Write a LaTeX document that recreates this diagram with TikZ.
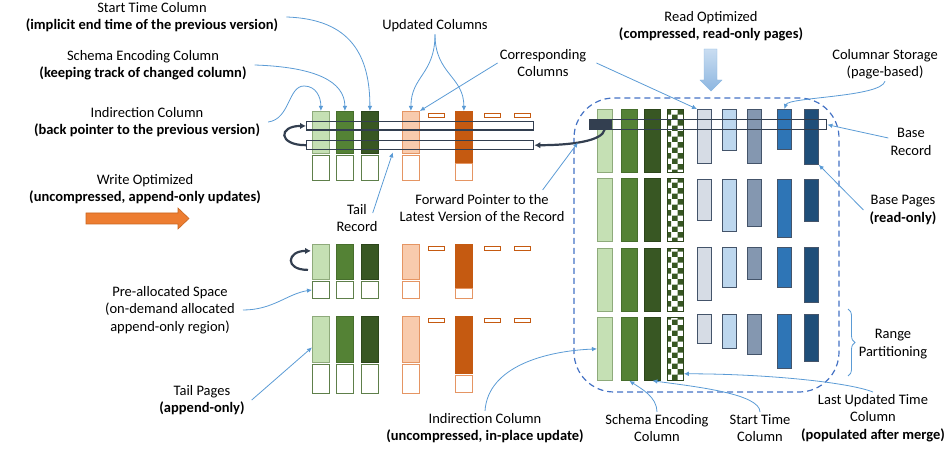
\documentclass[tikz,border=0pt]{standalone}
\usepackage{fontspec}
\setmainfont{Carlito}
\usetikzlibrary{calc,shapes,arrows.meta,patterns,decorations.pathreplacing}

\definecolor{lgreen}{HTML}{C5E0B4}
\definecolor{lgreenb}{HTML}{8EAA7B}
\definecolor{mgreen}{HTML}{548235}
\definecolor{mgreenb}{HTML}{466E2C}
\definecolor{dgreen}{HTML}{385723}
\definecolor{dgreenb}{HTML}{2C451B}
\definecolor{wgreenb}{HTML}{5E7F4A}
\definecolor{peach}{HTML}{F8CBAD}
\definecolor{peachb}{HTML}{E59563}
\definecolor{dorange}{HTML}{C55A11}
\definecolor{orangef}{HTML}{ED7D31}
\definecolor{orangeb}{HTML}{C9651F}
\definecolor{greyblue}{HTML}{D6DCE5}
\definecolor{lblue}{HTML}{BDD7EE}
\definecolor{slateb}{HTML}{8497B0}
\definecolor{mblue}{HTML}{2E75B6}
\definecolor{navy}{HTML}{1F4E79}
\definecolor{colb}{HTML}{44546A}
\definecolor{recline}{HTML}{333F50}
\definecolor{blueline}{HTML}{5B9BD5}
\definecolor{regline}{HTML}{4472C4}
\definecolor{rtop}{HTML}{C9DDF1}
\definecolor{rbot}{HTML}{8DB6E0}

\begin{document}
\begin{tikzpicture}[x=1pt,y=-1pt,
  lbl/.style={align=center,inner sep=2pt,font=\fontsize{14.5}{17.5}\selectfont},
  col/.style={draw,anchor=north west,inner sep=0pt,line width=0.8pt,minimum width=17pt},
  dsh/.style={draw=dorange,fill=white,anchor=north west,inner sep=0pt,line width=1pt,minimum width=16pt,minimum height=4pt},
  rec/.style={draw=recline,anchor=north west,inner sep=0pt,line width=1.4pt},
  ptr/.style={draw=blueline,line width=0.8pt,-{Latex[length=5pt,width=4.5pt]}},
  bptr/.style={draw=recline,line width=2.2pt,-{Latex[length=6pt,width=6.5pt]}}]
\useasboundingbox (0,0) rectangle (948,470);

% tail pages
\foreach \r/\tp/\hg/\wg/\ho/\wo in {a/111/42/25/51/17,b/244/35/17/43/10,c/316/46/29/57/17}{
  \node[col,fill=lgreen,draw=lgreenb,minimum height=\hg pt] (g1\r) at (312,\tp) {};
  \node[col,fill=mgreen,draw=mgreenb,minimum height=\hg pt] (g2\r) at (336,\tp) {};
  \node[col,fill=dgreen,draw=dgreenb,minimum height=\hg pt] (g3\r) at (361,\tp) {};
  \node[col,fill=peach,draw=peachb,minimum height=\hg pt] (pe\r) at (402,\tp) {};
  \node[col,fill=dorange,draw=dorange,minimum height=\ho pt] (do\r) at (455,\tp) {};
  \foreach \x [count=\i] in {312,336,361}
    \node[col,fill=white,draw=wgreenb,minimum height=\wg pt] (w\i\r) at (\x,\tp+\hg+2) {};
  \node[col,fill=white,draw=peachb,minimum height=\wg pt] (wp\r) at (402,\tp+\hg+2) {};
  \node[col,fill=white,draw=peachb,minimum height=\wo pt] (wd\r) at (455,\tp+\ho+1.5) {};
  \foreach \x [count=\i] in {428,484,514}
    \node[dsh] (s\i\r) at (\x,\tp+2) {};
}

% base pages
\draw[regline,line width=1.2pt,dash pattern=on 6pt off 4pt,rounded corners=40pt] (574,98) rectangle (839,392);
\foreach \r/\gt/\bt/\ha/\hbb/\hc/\hdd/\he in {1/109/109/54/41/54/40/55,2/178/179/41/52/47/58/42,3/248/247/53/40/32/40/55,4/317/314/29/34/40/54/47}{
  \node[col,fill=lgreen,draw=lgreenb,minimum width=15pt,minimum height=63pt] (G1-\r) at (597,\gt) {};
  \node[col,fill=mgreen,draw=mgreenb,minimum width=16pt,minimum height=63pt] (G2-\r) at (621,\gt) {};
  \node[col,fill=dgreen,draw=dgreenb,minimum width=16pt,minimum height=63pt] (G3-\r) at (644,\gt) {};
  \node[col,pattern=checkerboard,pattern color=dgreen,draw=dgreenb,minimum width=16pt,minimum height=63pt] (CH-\r) at (667,\gt) {};
  \node[col,fill=greyblue,draw=colb,minimum width=14pt,minimum height=\ha pt] (B1-\r) at (697,\bt) {};
  \node[col,fill=lblue,draw=colb,minimum width=14pt,minimum height=\hbb pt] (B2-\r) at (722,\bt) {};
  \node[col,fill=slateb,draw=colb,minimum width=14pt,minimum height=\hc pt] (B3-\r) at (747,\bt) {};
  \node[col,fill=mblue,draw=colb,minimum width=14pt,minimum height=\hdd pt] (B4-\r) at (777,\bt) {};
  \node[col,fill=navy,draw=colb,minimum width=14pt,minimum height=\he pt] (B5-\r) at (804,\bt) {};
}

% records
\node[rec,minimum width=227pt,minimum height=8.5pt] (rec1) at (306,121) {};
\node[rec,minimum width=227pt,minimum height=9pt] (rec2) at (306,140) {};
\node[rec,minimum width=237pt,minimum height=10pt] (baserec) at (589,119) {};
\node[fill=recline,anchor=north west,inner sep=0pt,minimum width=23pt,minimum height=10pt] (ds) at (589,119) {};

\draw[bptr] (rec2.west) .. controls +(-28,0) and +(-28,0) .. (rec1.west);
\draw[bptr] ($(g1b.west)+(-4,8)$) .. controls +(-24,0) and +(-24,0) .. ($(g1b.west)+(-1,-11)$);
\draw[bptr] ([xshift=4pt]ds.south) .. controls +(-2,12) and +(35,0) .. (rec2.east) coordinate[pos=0.55] (fpmid);

% block arrows and brace
\draw[orangeb,fill=orangef,line width=0.6pt] (86,213) -- (178,213) -- (178,208) -- (189,218.5) -- (178,229) -- (178,224) -- (86,224) -- cycle;
\draw[draw=blueline!70,top color=rtop,bottom color=rbot,line width=0.4pt] (704,49) -- (717,49) -- (717,80) -- (722,80) -- (711,91) -- (700,80) -- (704,80) -- cycle;
\draw[blueline,line width=0.8pt,decorate,decoration={brace,amplitude=7pt}] (848,309) -- (848,376);

% labels
\node[lbl] (stlbl) at (152,17) {Start Time Column\\\textbf{(implicit end time of the previous version)}};
\node[lbl] (selbl) at (143,65) {Schema Encoding Column\\\textbf{(keeping track of changed column)}};
\node[lbl] (indlbl) at (147,122) {Indirection Column\\\textbf{(back pointer to the previous version)}};
\node[lbl] (upd) at (435,26) {Updated Columns};
\node[lbl] (corr) at (543,63) {Corresponding\\Columns};
\node[lbl] (ropt) at (711,26) {Read Optimized\\\textbf{(compressed, read-only pages)}};
\node[lbl] (colst) at (885,64) {Columnar Storage\\(page-based)};
\node[lbl] (baserecl) at (911,142) {Base\\Record};
\node[lbl] (wopt) at (145,189) {Write Optimized\\\textbf{(uncompressed, append-only updates)}};
\node[lbl] (tailrec) at (357,218) {Tail\\Record};
\node[lbl] (fwd) at (482,208) {Forward Pointer to the\\Latest Version of the Record};
\node[lbl] (basepg) at (903,210) {Base Pages\\\textbf{(read-only)}};
\node[lbl] (prealloc) at (170,310) {Pre-allocated Space\\(on-demand allocated\\append-only region)};
\node[lbl] (rangelbl) at (893,344) {Range\\Partitioning};
\node[lbl] (tailpg) at (202,400) {Tail Pages\\\textbf{(append-only)}};
\node[lbl] (indbot) at (485,428) {Indirection Column\\\textbf{(uncompressed, in-place update)}};
\node[lbl] (sebot) at (657,428) {Schema Encoding\\Column};
\node[lbl] (stbot) at (760,428) {Start Time\\Column};
\node[lbl] (lastupd) at (873,418) {Last Updated Time\\Column\\\textbf{(populated after merge)}};

% connectors
\draw[ptr] ([xshift=6pt]stlbl.east) .. controls +(65,2) and +(0,-55) .. (g3a.north);
\draw[ptr] ([xshift=6pt]selbl.east) .. controls +(60,2) and +(0,-30) .. (g2a.north);
\draw[ptr] ([xshift=6pt]indlbl.east) .. controls +(22,-3) and +(-16,0) .. (304,86) .. controls +(12,0) and +(0,-14) .. (g1a.north);
\draw[ptr] (upd.south) .. controls +(0,40) and +(0,-35) .. (pea.north);
\draw[ptr] (upd.south) .. controls +(0,40) and +(0,-35) .. (doa.north);
\draw[ptr] (corr.west) -- (pea.north east);
\draw[ptr] ([xshift=8pt]corr.east) -- (B1-1.north west);
\draw[ptr] ($(tailrec.east)+(-7,-5)$) -- ($(rec2.south west)!0.38!(rec2.south east)+(0,2)$);
\draw[ptr] ($(fwd.north east)+(-24,-2)$) -- (fpmid);
\draw[ptr] ([xshift=6pt]prealloc.east) .. controls +(30,0) and +(-25,4) .. (w1b.west);
\draw[ptr] ([xshift=5pt]tailpg.east) -- ([yshift=-8pt]g1c.west);
\draw[ptr] (indbot.north) .. controls +(3,-45) and +(-50,2) .. (G1-4.west);
\draw[ptr] (sebot.north) .. controls +(0,-15) and +(12,8) .. (G2-4.south);
\draw[ptr] (stbot.north) .. controls +(0,-18) and +(45,6) .. (G3-4.south);
\draw[ptr] (lastupd.north) .. controls +(-25,-10) and +(80,0) .. ([yshift=7pt]CH-4.south east);
\draw[ptr] ([xshift=-4pt]basepg.west) -- (B5-1.south east);
\draw[ptr] ([yshift=4pt]baserecl.west) -- (baserec.east);
\draw[ptr] (colst.south) .. controls +(-4,16) and +(4,-12) .. (B4-1.north);
\end{tikzpicture}
\end{document}
